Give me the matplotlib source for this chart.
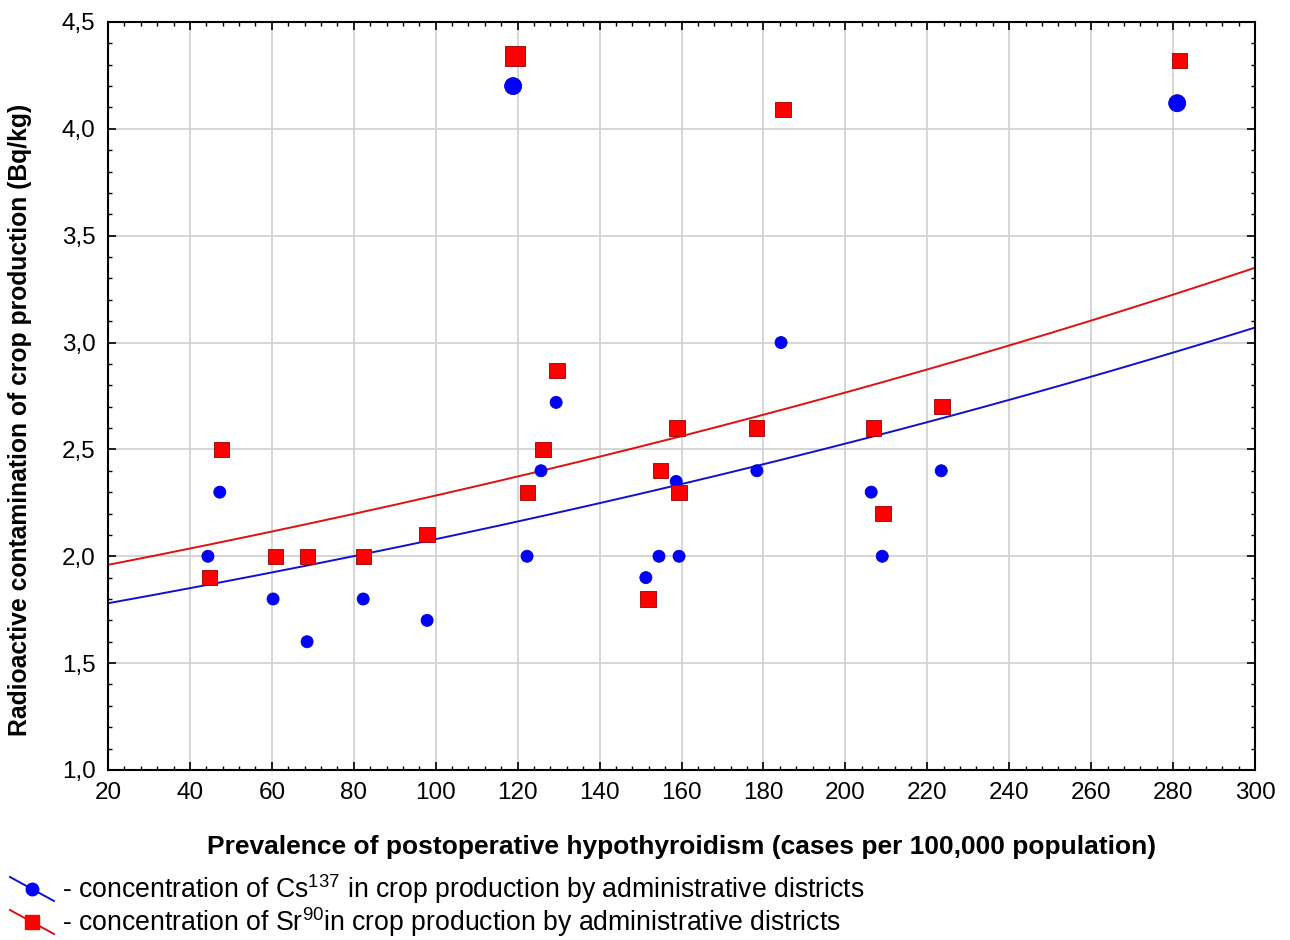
import numpy as np
import matplotlib
matplotlib.use("Agg")
import matplotlib.pyplot as plt
from matplotlib.lines import Line2D
from matplotlib.ticker import MultipleLocator, FuncFormatter

plt.rcParams['font.family'] = ['Liberation Sans', 'DejaVu Sans']
plt.rcParams['mathtext.fontset'] = 'custom'
plt.rcParams['mathtext.rm'] = 'Liberation Sans'

# Cs137 - Punkte (Prävalenz, Konzentration)
cs_x = [44.4, 47.3, 60.3, 68.6, 82.3, 97.9, 118.9, 122.3, 125.7, 129.4,
        151.3, 154.5, 158.7, 159.4, 178.4, 184.3, 206.3, 209.0, 223.4, 281.0]
cs_y = [2.0, 2.3, 1.8, 1.6, 1.8, 1.7, 4.2, 2.0, 2.4, 2.72,
        1.9, 2.0, 2.35, 2.0, 2.4, 3.0, 2.3, 2.0, 2.4, 4.12]
cs_big = [6, 19]  # doppelte Bezirke -> grössere Marker

# Sr90 - Punkte
sr_x = [44.7, 47.8, 60.8, 68.8, 82.3, 97.9, 119.4, 122.5, 126.2, 129.6,
        151.8, 154.8, 158.9, 159.4, 178.4, 184.8, 206.8, 209.2, 223.6, 281.5]
sr_y = [1.9, 2.5, 2.0, 2.0, 2.0, 2.1, 4.34, 2.3, 2.5, 2.87,
        1.8, 2.4, 2.6, 2.3, 2.6, 4.09, 2.6, 2.2, 2.7, 4.32]
sr_big = [6]

# Exponentielle Regression y = a * exp(b * x)
cs_fit = (1.712, 0.001947)
sr_fit = (1.886, 0.001915)

fig = plt.figure(figsize=(12.9, 9.4), dpi=100)
ax = fig.add_axes([0.0837, 0.1809, 0.8892, 0.7957])

xx = np.linspace(20, 300, 300)
ax.plot(xx, cs_fit[0] * np.exp(cs_fit[1] * xx), color='#1010d0', lw=1.4, zorder=2)
ax.plot(xx, sr_fit[0] * np.exp(sr_fit[1] * xx), color='#e01010', lw=1.4, zorder=2)

def sizes(n, big, s_small, s_big):
    return [s_big if i in big else s_small for i in range(n)]

ax.scatter(cs_x, cs_y, s=sizes(len(cs_x), cs_big, 75, 150), marker='o',
           color='#0000ff', edgecolors='#0000cc', linewidths=0.6, zorder=3)
ax.scatter(sr_x, sr_y, s=sizes(len(sr_x), sr_big, 120, 220), marker='s',
           color='#ff0000', edgecolors='#990000', linewidths=0.6, zorder=4)

ax.set_xlim(20, 300)
ax.set_ylim(1.0, 4.5)
ax.xaxis.set_major_locator(MultipleLocator(20))
ax.xaxis.set_minor_locator(MultipleLocator(4))
ax.yaxis.set_major_locator(MultipleLocator(0.5))
ax.yaxis.set_minor_locator(MultipleLocator(0.1))
ax.yaxis.set_major_formatter(FuncFormatter(lambda v, p: f"{v:.1f}".replace('.', ',')))
ax.tick_params(which='both', direction='in', top=True, right=True, labelsize=17.5, colors='black')
ax.tick_params(which='major', length=6, width=1.2, pad=9)
ax.tick_params(which='minor', length=3, width=1)
ax.grid(True, which='major', color='#d0d0d0', lw=1.2)
ax.set_axisbelow(True)
for sp in ax.spines.values():
    sp.set_linewidth(1.5)

ax.set_xlabel('Prevalence of postoperative hypothyroidism (cases per 100,000 population)',
              fontsize=19, fontweight='bold')
ax.set_ylabel('Radioactive contamination of crop production (Bq/kg)',
              fontsize=17.8, fontweight='bold')
ax.xaxis.set_label_coords(0.5, -0.087)
ax.yaxis.set_label_coords(-0.066, 0.468)

# Legende unten links
legend_rows = [
    ('#0000ff', '#1010d0', 'o', 9, 889,
     r'- concentration of Cs$^{137}$ in crop production by administrative districts'),
    ('#ff0000', '#e01010', 's', 10, 922,
     r'- concentration of Sr$^{90}$in crop production by administrative districts'),
]
W, H = 1290, 940
for fc, lc, mk, ms, yc, txt in legend_rows:
    fig.add_artist(Line2D([10 / W, 54 / W], [1 - (yc - 12) / H, 1 - (yc + 12) / H],
                          color=lc, lw=1.4))
    fig.add_artist(Line2D([32 / W], [1 - yc / H], marker=mk, ms=ms,
                          color=fc, mec=fc, lw=0))
    fig.text(62 / W, 1 - yc / H, txt, fontsize=19.2, va='center', ha='left')

fig.savefig('out.png', dpi=100)
